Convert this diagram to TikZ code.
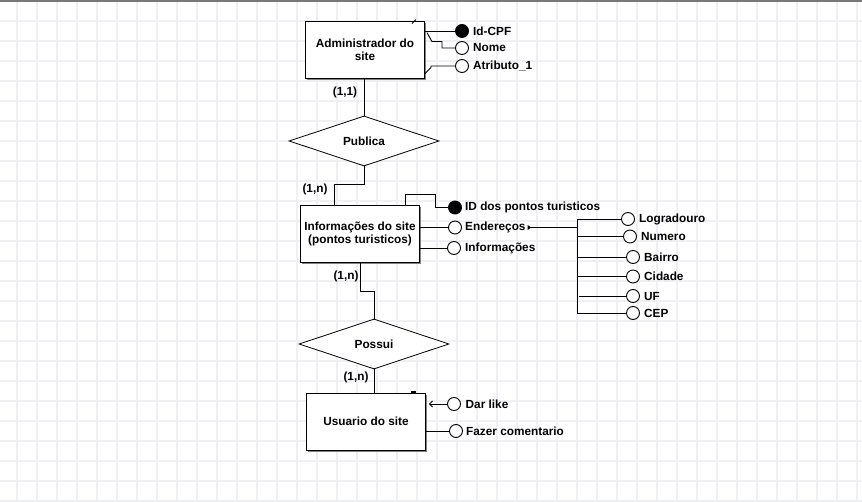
\documentclass[tikz,border=0pt]{standalone}
\usepackage{fontspec}
\setmainfont{Liberation Sans}
\usetikzlibrary{shapes.geometric,shadows,arrows.meta,calc}
\definecolor{gridline}{RGB}{238,240,244}
\definecolor{topline}{RGB}{120,120,120}
\definecolor{boxshadow}{RGB}{130,130,130}
\tikzset{
  txt/.style={font=\bfseries\fontsize{11.8}{13}\selectfont},
  entity/.style={txt, draw, fill=white, line width=0.9pt, minimum width=119pt, minimum height=57pt,
    inner sep=0pt, align=center,
    drop shadow={shadow xshift=1.8pt, shadow yshift=-1.8pt, fill=boxshadow, opacity=1}},
  relation/.style={txt, draw, fill=white, shape=diamond, aspect=3, minimum width=150pt,
    minimum height=50pt, inner sep=0pt, line width=0.8pt},
  attr/.style={draw, circle, fill=white, minimum size=13pt, inner sep=0pt, line width=0.9pt},
  keyattr/.style={attr, fill=black},
  lbl/.style={txt, anchor=west, inner sep=0pt},
  card/.style={txt, inner sep=0pt},
  conn/.style={line width=0.9pt},
}
\begin{document}
\begin{tikzpicture}[x=1pt,y=-1pt]
  % canvas and background grid
  \useasboundingbox (0,0) rectangle (862,502);
  \fill[white] (0,0) rectangle (862,502);
  \foreach \gx in {17,37,...,857} \draw[gridline, line width=1.2pt] (\gx,0) -- (\gx,502);
  \foreach \gy in {21,41,...,501} \draw[gridline, line width=1.2pt] (0,\gy) -- (862,\gy);
  \draw[topline, line width=1.6pt] (0,0.8) -- (862,0.8);

  % entities
  \node[entity] (adm) at (365,49.5) {Administrador do\\site};
  \node[entity] (info) at (360,233.5) {Informações do site\\(pontos turisticos)};
  \node[entity] (usu) at (366,421.5) {Usuario do site};

  % relationships
  \node[relation] (pub) at (364,141) {Publica};
  \node[relation] (pos) at (374,344) {Possui};

  % cardinalities
  \node[card] (c1) at (345,92) {(1,1)};
  \node[card] (c2) at (315,189) {(1,n)};
  \node[card] (c3) at (346,276.5) {(1,n)};
  \node[card] (c4) at (356,377) {(1,n)};

  % attributes of Administrador do site
  \node[keyattr] (idcpf) at (462,31) {};
  \node[attr] (nome) at (462,48) {};
  \node[attr] (atr) at (462,66) {};
  \node[lbl] (tidcpf) at (473,31) {Id-CPF};
  \node[lbl] (tnome) at (473,48) {Nome};
  \node[lbl] (tatr) at (473,66) {Atributo\_1};

  % attributes of Informações do site
  \node[keyattr] (idpt) at (455,207.5) {};
  \node[attr] (endr) at (455,227.5) {};
  \node[attr] (infc) at (454,248) {};
  \node[lbl] (tidpt) at (465,207.5) {ID dos pontos turisticos};
  \node[lbl] (tendr) at (465,227.5) {Endereços};
  \node[lbl] (tinfc) at (465,248) {Informações};

  % composite attribute Endereços
  \coordinate (bus) at (577,227.5);
  \coordinate (bustop) at (577,219);
  \coordinate (busbot) at (577,313);
  \node[attr] (logr) at (628,219) {};
  \node[attr] (num) at (630,236.5) {};
  \node[attr] (bai) at (633,257) {};
  \node[attr] (cid) at (633,276.5) {};
  \node[attr] (uf) at (633,296) {};
  \node[attr] (cep) at (633,313) {};
  \node[lbl] (tlogr) at (639,219) {Logradouro};
  \node[lbl] (tnum) at (641,236.5) {Numero};
  \node[lbl] (tbai) at (644,257) {Bairro};
  \node[lbl] (tcid) at (644,276.5) {Cidade};
  \node[lbl] (tuf) at (644,296) {UF};
  \node[lbl] (tcep) at (644,313) {CEP};

  % attributes of Usuario do site
  \node[attr] (dar) at (454,404) {};
  \node[attr] (faz) at (456,431) {};
  \node[lbl] (tdar) at (465.5,404) {Dar like};
  \node[lbl] (tfaz) at (466,431) {Fazer comentario};

  % connectors: entity -- relationship
  \draw[conn] (adm.south -| pub.north) -- (pub.north);
  \draw[conn] (pub.south) -- ++(0,18.5) -| ([xshift=-26pt]info.north);
  \draw[conn] (info.south) -- ++(0,29.5) -| (pos.north);
  \draw[conn] (pos.south) -- (pos.south |- usu.north);

  % connectors: entity -- attribute
  \draw[conn] (adm.east |- idcpf) -- (idcpf);
  \draw[conn] (adm.north east) ++(2,12) -- ++(5,9) -- ++(10,0) |- (nome);
  \draw[conn] (adm.south east) ++(0,-5) -- ++(6,-6) |- (atr);
  \draw[conn] ([xshift=45pt]info.north) |- ++(30,-10) |- (idpt);
  \draw[conn] (info.east |- endr) -- (endr);
  \draw[conn] (info.east |- infc) -- (infc);
  \draw[conn, {Triangle[reversed,length=3.5pt,width=4.5pt]}-] (tendr.east) ++(2,0) -- (bus);
  \draw[conn] (bustop) -- (busbot);
  \draw[conn] (bustop) -- (logr);
  \draw[conn] (bus |- num) -- (num);
  \draw[conn] (bus |- bai) -- (bai);
  \draw[conn] (bus |- cid) -- (cid);
  \draw[conn] ([xshift=2pt]bus |- uf) -- (uf);
  \draw[conn] (busbot) -- (cep);
  \draw[conn, {Straight Barb[length=3pt,width=6pt]}-] ([xshift=3pt]usu.east |- dar) -- (dar);
  \draw[conn] (usu.east |- faz) -- (faz);

  % small handle marks on the boxes
  \draw[line width=0.8pt] ([xshift=-13pt,yshift=-3pt]adm.north east) -- ++(4,-4);
  \fill ([xshift=-15pt]usu.north east) rectangle ++(5,-2);
\end{tikzpicture}
\end{document}
